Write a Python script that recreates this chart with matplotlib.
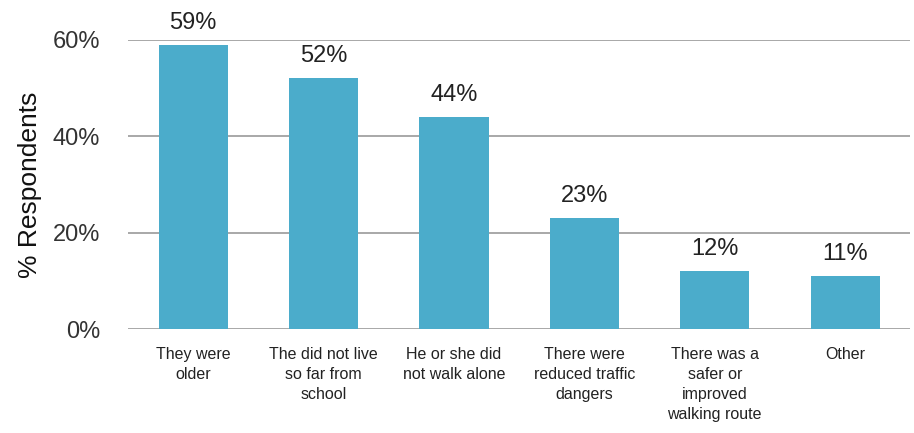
import matplotlib
matplotlib.use("Agg")
import matplotlib.pyplot as plt

categories = ["They were\nolder", "The did not live\nso far from\nschool", "He or she did\nnot walk alone",
              "There were\nreduced traffic\ndangers", "There was a\nsafer or\nimproved\nwalking route", "Other"]
values = [59, 52, 44, 23, 12, 11]
yticks = [0, 20, 40, 60]

plt.rcParams['font.family'] = ['Liberation Sans', 'DejaVu Sans']

fig = plt.figure(figsize=(9.14, 4.33), dpi=100)
ax = fig.add_axes([0.140, 0.240, 0.856, 0.668])

x = range(len(categories))
bars = ax.bar(x, values, width=0.53, color='#4BACCB', zorder=3)
for b, v in zip(bars, values):
    ax.annotate("%d%%" % v, (b.get_x() + b.get_width() / 2, v), xytext=(0, 8),
                textcoords='offset points', ha='center', va='bottom', fontsize=17, color='#222222')

ax.set_xlim(-0.5, len(categories) - 0.5)
ax.set_ylim(0, 60)
ax.set_yticks(yticks)
ax.set_yticklabels(["%d%%" % t for t in yticks], fontsize=17, color='#333333')
ax.set_xticks(list(x))
ax.set_xticklabels(categories, fontsize=11.5, color='#222222', va='top', linespacing=1.4)
ax.tick_params(axis='both', length=0)
ax.tick_params(axis='x', pad=13)
ax.tick_params(axis='y', pad=20)
ax.grid(axis='y', color='#9a9a9a', linewidth=1.2, zorder=0)
for s in ax.spines.values():
    s.set_visible(False)
ax.set_ylabel("% Respondents", fontsize=19, color='#111111', labelpad=8)
for t in ax.texts:
    t.set_clip_on(False)

fig.savefig("out.png", dpi=100)
